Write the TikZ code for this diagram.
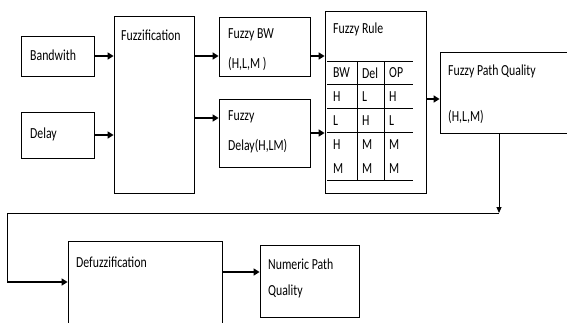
\documentclass[tikz,border=0pt]{standalone}
\usepackage{fontspec}
\usepackage{graphicx}
\setmainfont{Carlito}
\usetikzlibrary{arrows.meta}
\newcommand*{\tall}[1]{\scalebox{1}[1.3]{#1}}
\tikzset{box/.style={draw,line width=0.8pt,inner sep=0pt},
  txt/.style={anchor=west,inner sep=0pt,font=\fontsize{11.8}{13}\selectfont},
  flow/.style={arrows={-Triangle[length=6pt,width=7pt]},line width=1.8pt},
  back/.style={line width=0.9pt}}
\begin{document}
\begin{tikzpicture}[x=1pt,y=-1pt]
\useasboundingbox(0,0)rectangle(567,322);
%inputs
\node[box,minimum width=73pt,minimum height=40pt](bw)at(57.5,56){};
\node[box,minimum width=73pt,minimum height=46pt](dl)at(57.5,135){};
\node[box,minimum width=80pt,minimum height=177pt](fz)at(154,104.5){};
\node[box,minimum width=91pt,minimum height=59pt](fbw)at(264.5,46.5){};
\node[box,minimum width=91pt,minimum height=68pt](fd)at(264.5,133){};
\node[box,minimum width=101pt,minimum height=182pt](rule)at(375.5,102){};
\node[box,minimum width=130pt,minimum height=81pt](fpq)at(505,92.5){};
\node[box,minimum width=154pt,minimum height=98pt](dfz)at(145,290){};
\node[box,minimum width=99pt,minimum height=72pt](npq)at(309.5,281){};
%texts
\node[txt](tbw)at(30,55){\tall{Bandwith}};
\node[txt](tdl)at(30,134){\tall{Delay}};
\node[txt](tfz)at(121,35){\tall{Fuzzification}};
\node[txt](tfbw)at(228,35){\tall{Fuzzy BW}};
\node[txt](tfbw2)at(228,64){\tall{(H,L,M )}};
\node[txt](tfd)at(228,117){\tall{Fuzzy}};
\node[txt](tfd2)at(228,146){\tall{Delay(H,LM)}};
\node[txt](trule)at(333,29){\tall{Fuzzy Rule}};
\node[txt](tfpq)at(448,71){\tall{Fuzzy Path Quality}};
\node[txt](tfpq2)at(448,117){\tall{(H,L,M)}};
\node[txt](tdfz)at(76,262){\tall{Defuzzification}};
\node[txt](tnpq)at(268,264){\tall{Numeric Path}};
\node[txt](tnpq2)at(268,291){\tall{Quality}};
%rule table
\foreach\y in{61,84,108,132,180}\draw[line width=1pt](327,\y)--(413,\y);
\foreach\x in{357,384}\draw[line width=1pt](\x,61)--(\x,180);
\foreach\a/\b/\c [count=\i] in{BW/Del/OP,H/L/H,L/H/L,H/M/M,M/M/M}{
  \node[txt](ca\i)at(333,49+24*\i){\tall{\a}};
  \node[txt](cb\i)at(362,49+24*\i){\tall{\b}};
  \node[txt](cc\i)at(389,49+24*\i){\tall{\c}};}
%connectors
\coordinate(fdin)at([yshift=15pt]fd.west);
\coordinate(fpqin)at([yshift=-6.5pt]fpq.west);
\coordinate(down)at([xshift=-6pt]fpq.south);
\coordinate(turn)at(7,213);
\coordinate(dfzin)at([yshift=8pt]dfz.west);
\coordinate(npqin)at([yshift=9pt]npq.west);
\draw[flow](bw.east)--(bw.east-|fz.west);
\draw[flow](dl.east)--(dl.east-|fz.west);
\draw[flow](bw.east-|fz.east)--(bw.east-|fbw.west);
\draw[flow](fdin-|fz.east)--(fdin);
\draw[flow](bw.east-|fbw.east)--(bw.east-|rule.west);
\draw[flow](fd.east)--(fd.east-|rule.west);
\draw[flow](fpqin-|rule.east)--(fpqin);
\draw[back,arrows={-Triangle[length=6pt,width=5pt]}](down)--(down|-turn);
\draw[back](down|-turn)--(turn)--(turn|-dfzin);
\draw[flow](turn|-dfzin)--(dfzin);
\draw[flow](npqin-|dfz.east)--(npqin);
\end{tikzpicture}
\end{document}
